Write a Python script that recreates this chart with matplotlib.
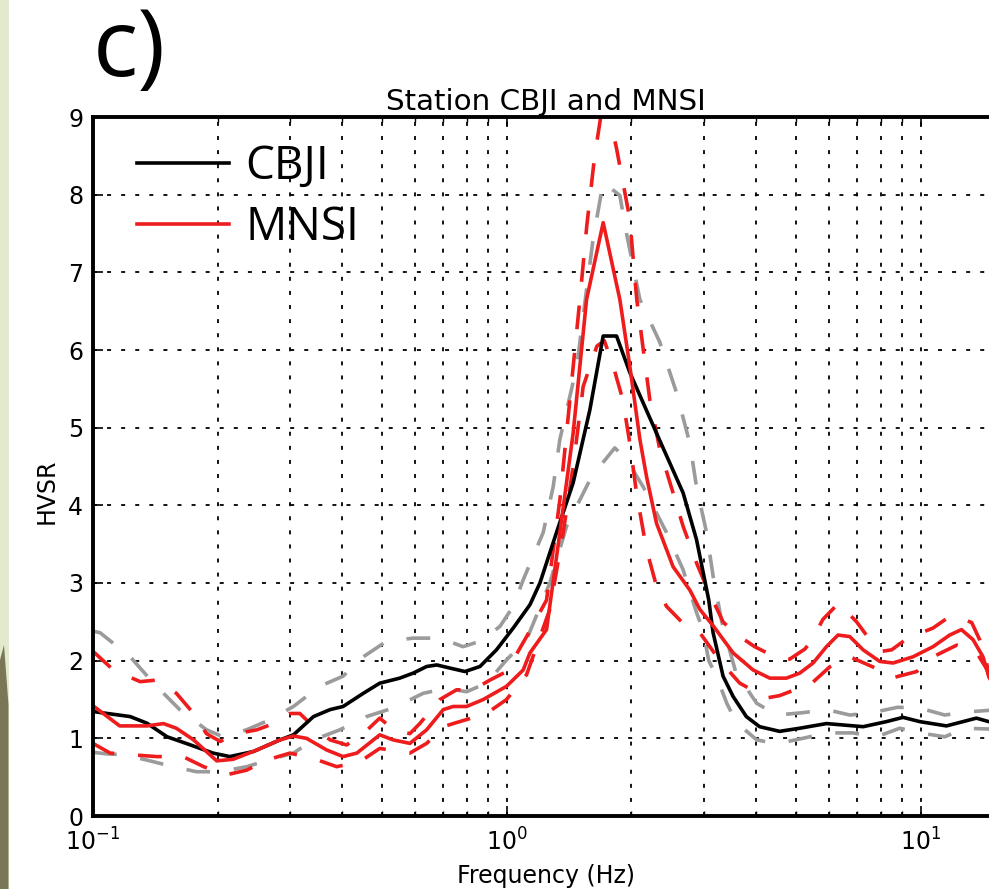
import matplotlib
matplotlib.use("Agg")
import matplotlib.pyplot as plt
from matplotlib.patches import Rectangle, Polygon
from matplotlib.ticker import LogLocator, NullFormatter, FixedLocator

# station CBJI: mean HVSR curve and mean +/- one std
cbji_freq = [0.100, 0.123, 0.135, 0.151, 0.172, 0.195, 0.214, 0.244, 0.283, 0.305,
             0.341, 0.374, 0.402, 0.450, 0.493, 0.551, 0.594, 0.640, 0.677, 0.728,
             0.792, 0.861, 0.944, 1.036, 1.137, 1.202, 1.318, 1.446, 1.587, 1.709,
             1.841, 1.982, 2.299, 2.666, 2.872, 3.075, 3.15, 3.33, 3.52, 3.79,
             4.08, 4.56, 5.10, 5.92, 7.26, 8.26, 9.06, 9.95, 11.54, 13.63, 14.6, 15.5]
cbji_hvsr = [1.345, 1.28, 1.195, 1.02, 0.915, 0.81, 0.765, 0.83, 0.98, 1.045,
             1.28, 1.37, 1.41, 1.58, 1.71, 1.775, 1.84, 1.925, 1.945, 1.905,
             1.86, 1.925, 2.14, 2.42, 2.72, 3.0, 3.65, 4.29, 5.23, 6.18,
             6.18, 5.71, 4.93, 4.16, 3.56, 2.78, 2.36, 1.80, 1.54, 1.28,
             1.15, 1.09, 1.13, 1.19, 1.15, 1.215, 1.27, 1.215, 1.16, 1.26, 1.215, 1.2]

cbji_up_freq = [0.100, 0.104, 0.123, 0.140, 0.162, 0.188, 0.206, 0.235, 0.268, 0.305,
                0.353, 0.402, 0.450, 0.512, 0.594, 0.689, 0.784, 0.861, 0.962, 1.036,
                1.095, 1.224, 1.294, 1.343, 1.476, 1.529, 1.616, 1.709, 1.875, 1.946,
                2.096, 2.342, 2.570, 2.767, 2.872, 3.037, 3.150, 3.306, 3.574, 4.017,
                4.489, 5.188, 5.928, 6.739, 7.614, 8.801, 9.945, 11.43, 12.92, 14.6, 15.5]
cbji_up = [2.38, 2.36, 2.05, 1.71, 1.37, 1.11, 1.02, 1.11, 1.24, 1.41,
           1.67, 1.80, 2.05, 2.25, 2.29, 2.29, 2.18, 2.25, 2.44, 2.70,
           3.04, 3.65, 4.24, 4.85, 5.79, 6.44, 7.43, 8.16, 7.99, 7.5,
           6.65, 6.1, 5.45, 4.8, 4.24, 3.65, 3.09, 2.5, 1.85, 1.45,
           1.30, 1.33, 1.37, 1.30, 1.33, 1.40, 1.39, 1.30, 1.34, 1.36, 1.38]

cbji_lo_freq = [0.100, 0.108, 0.118, 0.135, 0.156, 0.178, 0.203, 0.235, 0.273, 0.305,
                0.341, 0.395, 0.458, 0.531, 0.628, 0.715, 0.799, 0.893, 0.998, 1.116,
                1.27, 1.394, 1.602, 1.823, 1.946, 2.134, 2.43, 2.666, 2.872, 2.975,
                3.075, 3.21, 3.40, 3.59, 4.017, 4.489, 5.188, 5.928, 6.852, 7.830,
                8.899, 9.945, 11.43, 12.77, 14.6, 15.5]
cbji_lo = [0.82, 0.80, 0.79, 0.72, 0.635, 0.57, 0.57, 0.635, 0.74, 0.81,
           0.98, 1.11, 1.28, 1.39, 1.58, 1.645, 1.60, 1.71, 2.01, 2.27,
           3.0, 3.73, 4.37, 4.74, 4.59, 4.24, 3.65, 3.17, 2.62, 2.4,
           2.0, 1.8, 1.45, 1.2, 0.98, 0.93, 1.0, 1.07, 1.07, 1.02,
           1.13, 1.07, 1.02, 1.13, 1.12, 1.1]

# station MNSI: mean HVSR curve and mean +/- one std
mnsi_freq = [0.100, 0.116, 0.135, 0.148, 0.159, 0.175, 0.199, 0.218, 0.249, 0.283,
             0.305, 0.328, 0.367, 0.402, 0.434, 0.493, 0.531, 0.583, 0.640, 0.702,
             0.742, 0.799, 0.877, 0.998, 1.095, 1.137, 1.247, 1.343, 1.446, 1.558,
             1.709, 1.875, 1.982, 2.096, 2.175, 2.299, 2.521, 2.767, 2.926, 3.15,
             3.521, 3.935, 4.318, 4.737, 5.102, 5.495, 5.918, 6.312, 6.739, 7.255,
             7.962, 8.575, 9.582, 10.71, 11.75, 12.54, 13.38, 14.14, 14.6, 15.5]
mnsi_hvsr = [1.42, 1.16, 1.16, 1.19, 1.13, 0.98, 0.71, 0.73, 0.85, 0.98,
             1.03, 1.00, 0.85, 0.765, 0.81, 1.045, 0.98, 0.935, 1.11, 1.37,
             1.41, 1.41, 1.50, 1.67, 1.88, 2.10, 2.40, 3.65, 4.93, 6.65,
             7.64, 6.65, 5.79, 4.85, 4.37, 3.77, 3.21, 2.91, 2.66, 2.45,
             2.10, 1.88, 1.775, 1.775, 1.84, 1.97, 2.18, 2.33, 2.31, 2.14,
             1.99, 1.97, 2.05, 2.18, 2.33, 2.40, 2.27, 2.05, 1.80, 1.5]

mnsi_up_freq = [0.100, 0.112, 0.130, 0.1425, 0.159, 0.175, 0.188, 0.203, 0.222, 0.249,
                0.273, 0.299, 0.316, 0.341, 0.374, 0.410, 0.450, 0.493, 0.530, 0.583,
                0.616, 0.689, 0.756, 0.829, 0.910, 0.998, 1.116, 1.247, 1.343, 1.420,
                1.501, 1.56, 1.63, 1.72, 1.84, 1.98, 2.06, 2.215, 2.342, 2.521,
                2.666, 2.872, 3.037, 3.33, 3.52, 3.97, 4.44, 4.825, 5.25, 5.47,
                5.80, 6.33, 7.00, 7.53, 8.05, 8.51, 9.30, 10.71, 11.75, 12.49,
                13.28, 13.88, 14.43, 14.6, 15.5]
mnsi_up = [2.12, 1.88, 1.73, 1.75, 1.58, 1.32, 1.06, 0.96, 1.06, 1.11,
           1.19, 1.32, 1.32, 1.15, 0.98, 0.915, 1.06, 1.26, 1.12, 1.06,
           1.19, 1.50, 1.625, 1.625, 1.75, 1.86, 2.31, 2.78, 4.07, 5.36,
           6.65, 7.6, 8.5, 9.3, 8.6, 7.7, 6.65, 5.36, 4.72, 4.16,
           3.73, 3.26, 2.95, 2.5, 2.37, 2.18, 2.05, 2.02, 2.15, 2.27,
           2.53, 2.74, 2.5, 2.27, 2.12, 2.14, 2.29, 2.42, 2.57, 2.55,
           2.49, 2.27, 1.97, 1.80, 1.5]

mnsi_lo_freq = [0.100, 0.110, 0.123, 0.1425, 0.165, 0.185, 0.210, 0.235, 0.263, 0.299,
                0.341, 0.388, 0.4415, 0.493, 0.583, 0.640, 0.702, 0.742, 0.893, 0.998,
                1.116, 1.270, 1.368, 1.446, 1.529, 1.65, 1.72, 1.806, 1.906, 1.982,
                2.057, 2.175, 2.299, 2.43, 2.666, 2.926, 3.27, 3.654, 4.246, 4.56,
                4.825, 5.454, 6.028, 6.739, 7.658, 8.561, 9.779, 10.71, 12.22, 13.66,
                14.6, 15.5]
mnsi_lo = [0.935, 0.81, 0.79, 0.765, 0.765, 0.635, 0.53, 0.59, 0.72, 0.81,
           0.74, 0.635, 0.70, 0.87, 0.81, 0.935, 1.15, 1.19, 1.32, 1.50,
           1.82, 2.66, 3.65, 4.5, 5.53, 6.05, 6.12, 5.8, 5.36, 4.8,
           4.16, 3.43, 2.96, 2.70, 2.48, 2.36, 2.0, 1.71, 1.52, 1.55,
           1.60, 1.71, 1.92, 2.05, 1.92, 1.78, 1.86, 2.05, 2.2, 2.1,
           1.85, 1.6]

red = '#ee1c1c'
grey = '#9b9b9b'
lw = 2.6
dash = (0, (6.6, 6.6))

fig = plt.figure(figsize=(9.89, 8.89), dpi=100)

# slide background strip on the far left
fig.patches.append(Rectangle((0, 0), 8.5 / 989, 1, transform=fig.transFigure,
                             facecolor='#e2e9cd', edgecolor='none'))
fig.patches.append(Polygon([(0, 1 - 660 / 889), (4 / 989, 1 - 645 / 889),
                            (8.5 / 989, 1 - 705 / 889), (8.5 / 989, 0), (0, 0)],
                           closed=True, transform=fig.transFigure,
                           facecolor='#7b7656', edgecolor='none'))

ax = fig.add_axes([93 / 989, 73 / 889, 906.5 / 989, 699 / 889])

ax.plot(cbji_up_freq, cbji_up, color=grey, lw=lw, ls=dash)
ax.plot(cbji_lo_freq, cbji_lo, color=grey, lw=lw, ls=dash)
ax.plot(mnsi_up_freq, mnsi_up, color=red, lw=lw, ls=dash)
ax.plot(mnsi_lo_freq, mnsi_lo, color=red, lw=lw, ls=dash)
ax.plot(cbji_freq, cbji_hvsr, color='k', lw=lw, label='CBJI')
ax.plot(mnsi_freq, mnsi_hvsr, color=red, lw=lw, label='MNSI')

ax.set_xscale('log')
ax.set_xlim(0.1, 15.5)
ax.set_ylim(0, 9)
ax.yaxis.set_major_locator(FixedLocator(range(10)))
ax.xaxis.set_major_locator(LogLocator(base=10))
ax.xaxis.set_minor_locator(LogLocator(base=10, subs=range(2, 10)))
ax.xaxis.set_minor_formatter(NullFormatter())

grid_kw = dict(color='k', lw=1.3, ls=(0, (2.2, 5.6)))
ax.grid(True, which='both', axis='x', **grid_kw)
ax.grid(True, which='major', axis='y', **grid_kw)

for s in ax.spines.values():
    s.set_linewidth(2.8)
ax.tick_params(which='both', direction='in', top=True, right=True, labelsize=17)
ax.tick_params(axis='y', pad=7)
ax.tick_params(axis='x', pad=9)
ax.tick_params(which='major', length=7, width=1.2)
ax.tick_params(which='minor', length=3.5, width=1.0)

ax.set_title('Station CBJI and MNSI', fontsize=21.2, pad=5)
ax.set_xlabel('Frequency (Hz)', fontsize=17, labelpad=6)
ax.set_ylabel('HVSR', fontsize=17)
ax.yaxis.set_label_coords(-0.038, 0.465)

ax.legend(loc='upper left', bbox_to_anchor=(137 / 989, 1 - 144 / 889),
          bbox_transform=fig.transFigure, frameon=False, borderpad=0,
          borderaxespad=0, handlelength=2.0, handletextpad=0.36,
          labelspacing=0.32, prop={'family': 'Open Sans', 'size': 33})

fig.text(93 / 989, 1 - 76 / 889, 'c)', fontsize=68, family='Open Sans',
         ha='left', va='baseline')

fig.savefig('out.png', dpi=100, facecolor='white')
